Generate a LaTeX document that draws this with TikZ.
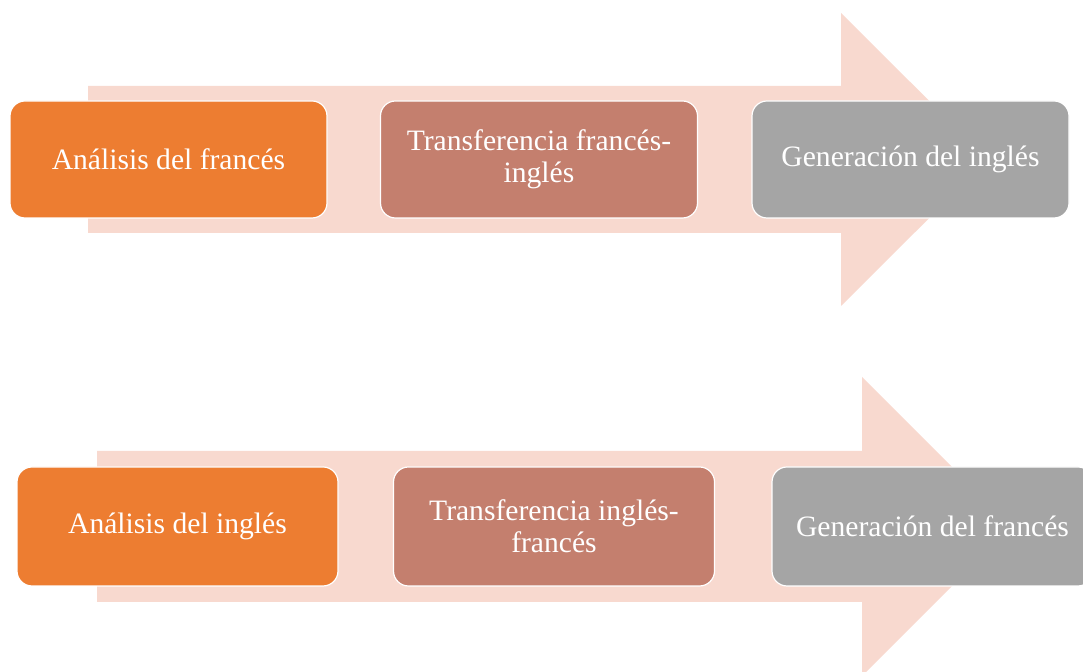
\documentclass[tikz,border=0pt]{standalone}
\usepackage{fontspec}
\setmainfont{Liberation Serif}
\definecolor{flecha}{HTML}{F8D9CF}
\definecolor{naranja}{HTML}{ED7D31}
\definecolor{rosado}{HTML}{C47F6E}
\definecolor{gris}{HTML}{A5A5A5}
\begin{document}
\begin{tikzpicture}[x=0.5pt,y=-0.5pt,font=\fontsize{14.8}{16}\selectfont]
      \tikzstyle{paso}=[rectangle,rounded corners=7.5pt,draw=white,line width=0.6pt,text=white,
          minimum width=158.5pt,minimum height=58.5pt,inner sep=2pt,align=center]
      \tikzstyle{analisis}=[paso,fill=naranja]
      \tikzstyle{transfer}=[paso,fill=rosado]
      \tikzstyle{generacion}=[paso,fill=gris]

      \clip (0,0) rectangle (1083,672);

      % flecha de arriba
      \fill[flecha] (88,86) -- (841,86) -- (841,13) -- (988,159.5) -- (841,306) -- (841,233) -- (88,233) -- cycle;
      \node(a1)[analisis] at (168.5,159.5){An\'alisis del franc\'es};
      \node(t1)[transfer] at (539,159.5){Transferencia franc\'es-\\ingl\'es};
      \node(g1)[generacion] at (910.5,159.5){Generaci\'on del ingl\'es};

      % flecha de abajo
      \fill[flecha] (97,451) -- (862,451) -- (862,377) -- (1011.5,526.5) -- (862,676) -- (862,602) -- (97,602) -- cycle;
      \node(a2)[analisis,minimum width=160.5pt,minimum height=59.5pt] at (177.5,526.5){An\'alisis del ingl\'es};
      \node(t2)[transfer,minimum width=160.5pt,minimum height=59.5pt] at (554,526.5){Transferencia ingl\'es-\\franc\'es};
      \node(g2)[generacion,minimum width=160.5pt,minimum height=59.5pt] at (932.5,526.5){Generaci\'on del franc\'es};
\end{tikzpicture}
\end{document}
